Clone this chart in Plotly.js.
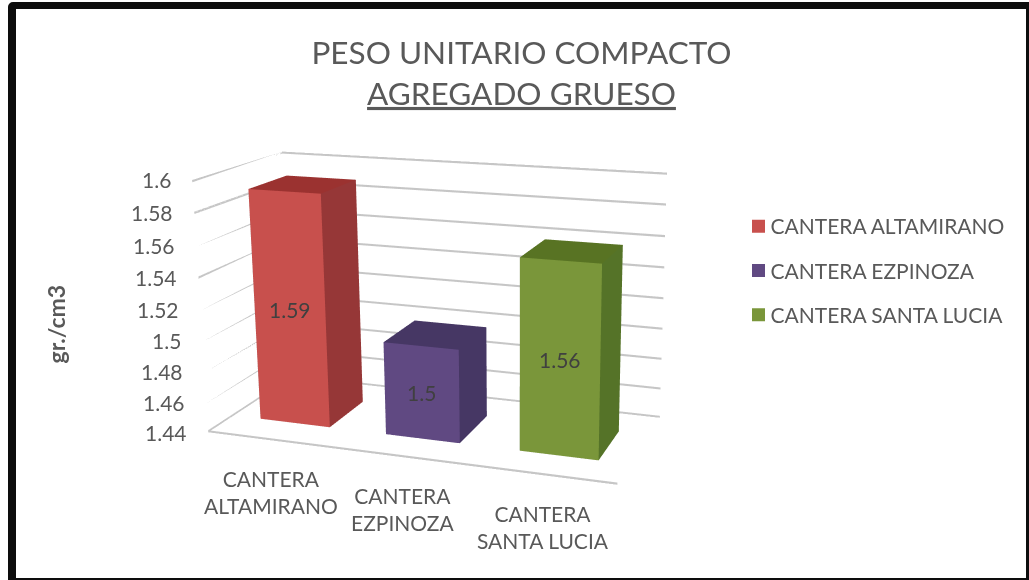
<!DOCTYPE html>
<html><head><meta charset="utf-8">
<script src="https://cdn.plot.ly/plotly-3.0.1.min.js"></script>
<style>html,body{margin:0;padding:0;background:#fff;overflow:hidden;width:1029px;height:580px}#c{position:absolute}
#f{position:absolute;left:8px;top:2px;width:1021px;height:578px;box-sizing:border-box;border:solid #0d0d0d;border-width:7px 3px 2px 8px;border-top-left-radius:5px;pointer-events:none}</style></head>
<body><div id="c"></div><div id="f"></div>
<script>
const categories=["CANTERA ALTAMIRANO","CANTERA EZPINOZA","CANTERA SANTA LUCIA"];
const categoryLabels=["CANTERA<br>ALTAMIRANO","CANTERA<br>EZPINOZA","CANTERA<br>SANTA LUCIA"];
const values=[1.59,1.5,1.56];
const zTicks=[1.44,1.46,1.48,1.5,1.52,1.54,1.56,1.58,1.6];
const zTickLabels=["1.44","1.46","1.48","1.5","1.52","1.54","1.56","1.58","1.6"];
const frontColors=["#c8504d","#604982","#7a963a"];
const sideColors=["#963737","#463764","#557328"];
const topColors=["#9b3230","#463764","#587323"];

const [ax,ay,ex,ey,ez,cx,cy,cz,k]=[1.6447,0.7096,1.8304,-4.5873,1.3718,0.2990,0.0780,0.0601,1.8870];
const W=Math.round(1029*k),H=Math.round(580*k),L=(1029-W)/2,T=(580-H)/2;
const el=document.getElementById('c');el.style.left=L+'px';el.style.top=T+'px';
const px=x=>(x-L)/W,py=y=>1-(y-T)/H;

const xLo=-0.5,xHi=2.5,zLo=1.44,zHi=1.6;
const barHalf=0.28,yFront=0.28,yBack=0.72,zBase=zLo;
const traces=[];

// grid lines as thin wall strips, built from the tick values
const sx=[],sy=[],sz=[],si=[],sj=[],sk=[];
const lineH=0.0014;
function strip(x0,y0,x1,y1,t){
 const a=Math.max(zLo,Math.min(zHi-lineH,t-lineH/2)),b=a+lineH,n=sx.length;
 sx.push(x0,x1,x1,x0);sy.push(y0,y1,y1,y0);sz.push(a,a,b,b);
 si.push(n,n);sj.push(n+1,n+2);sk.push(n+2,n+3);
}
zTicks.forEach(t=>{strip(xLo,0,xLo,1,t);strip(xLo,1,xHi,1,t);});
strip(xLo,0,xHi,0,zLo);
traces.push({type:'mesh3d',x:sx,y:sy,z:sz,i:si,j:sj,k:sk,color:'#c6c6c6',showlegend:false,hoverinfo:'skip',
 flatshading:true,lighting:{ambient:1,diffuse:0,specular:0,roughness:1,fresnel:0}});

const faces=[[0,1,2],[0,2,3],[0,1,5],[0,5,4],[1,2,6],[1,6,5],[3,2,6],[3,6,7],[0,3,7],[0,7,4],[4,5,6],[4,6,7]];
values.forEach((v,n)=>{
 const x0=n-barHalf,x1=n+barHalf;
 const f=frontColors[n],s=sideColors[n],t=topColors[n];
 traces.push({type:'mesh3d',name:categories[n],showlegend:false,hoverinfo:'skip',
  x:[x0,x1,x1,x0,x0,x1,x1,x0],
  y:[yFront,yFront,yBack,yBack,yFront,yFront,yBack,yBack],
  z:[zBase,zBase,zBase,zBase,v,v,v,v],
  i:faces.map(a=>a[0]),j:faces.map(a=>a[1]),k:faces.map(a=>a[2]),
  facecolor:[t,t,f,f,s,s,s,s,s,s,t,t],
  flatshading:true,lighting:{ambient:1,diffuse:0,specular:0,roughness:1,fresnel:0}});
 traces.push({type:'scatter3d',mode:'markers',name:categories[n],x:[null],y:[null],z:[null],showlegend:true,legendgroup:'g'+n,
  marker:{symbol:'square',size:13,color:f}});
});
const grey='#595959';
const ann=[];
zTicks.forEach((z,i)=>ann.push({x:xLo,y:0,z:z,text:zTickLabels[i],showarrow:false,xanchor:'right',yanchor:'middle',xshift:-19,font:{size:21,color:grey,family:'Lato'}}));
categoryLabels.forEach((t,n)=>ann.push({x:n,y:0,z:zBase,text:t,showarrow:false,xanchor:'center',yanchor:'top',yshift:-24,font:{size:21,color:grey,family:'Lato'}}));
values.forEach((v,n)=>ann.push({x:n,y:yFront,z:(v+zBase)/2,text:String(v),showarrow:false,xanchor:'center',yanchor:'middle',font:{size:21,color:'#404040',family:'Lato'}}));
const axBase={showgrid:false,showticklabels:false,showline:false,ticks:'',zeroline:false,showbackground:false,showspikes:false,title:{text:''}};
const layout={width:W,height:H,margin:{l:0,r:0,t:0,b:0},paper_bgcolor:'#fff',font:{family:'Lato',color:grey},
 title:{text:'PESO UNITARIO COMPACTO<br><u>AGREGADO GRUESO</u>',x:px(521),xanchor:'center',y:py(64),yanchor:'top',font:{size:31.5,color:grey,family:'Lato'}},
 legend:{x:px(738),xanchor:'left',y:py(206),yanchor:'top',font:{size:21,color:grey,family:'Lato'},tracegroupgap:14,bgcolor:'rgba(0,0,0,0)'},
 annotations:[{xref:'paper',yref:'paper',x:px(55),y:py(324),xanchor:'center',yanchor:'middle',text:'<b>gr./cm3</b>',textangle:-90,showarrow:false,font:{size:23,color:grey,family:'Lato'}}],
 scene:{domain:{x:[0,1],y:[0,1]},aspectmode:'manual',aspectratio:{x:ax,y:ay,z:1},
  camera:{eye:{x:ex,y:ey,z:ez},center:{x:cx,y:cy,z:cz},up:{x:0,y:0,z:1},projection:{type:'perspective'}},
  xaxis:{...axBase,range:[xLo,xHi]},
  yaxis:{...axBase,range:[0,1]},
  zaxis:{...axBase,range:[zLo,zHi]},
  annotations:ann}};
Plotly.newPlot('c',traces,layout,{displayModeBar:false}).then(()=>{
 document.querySelectorAll('.legendtext').forEach(t=>t.setAttribute('x',Number(t.getAttribute('x'))-8));
});
</script></body></html>
